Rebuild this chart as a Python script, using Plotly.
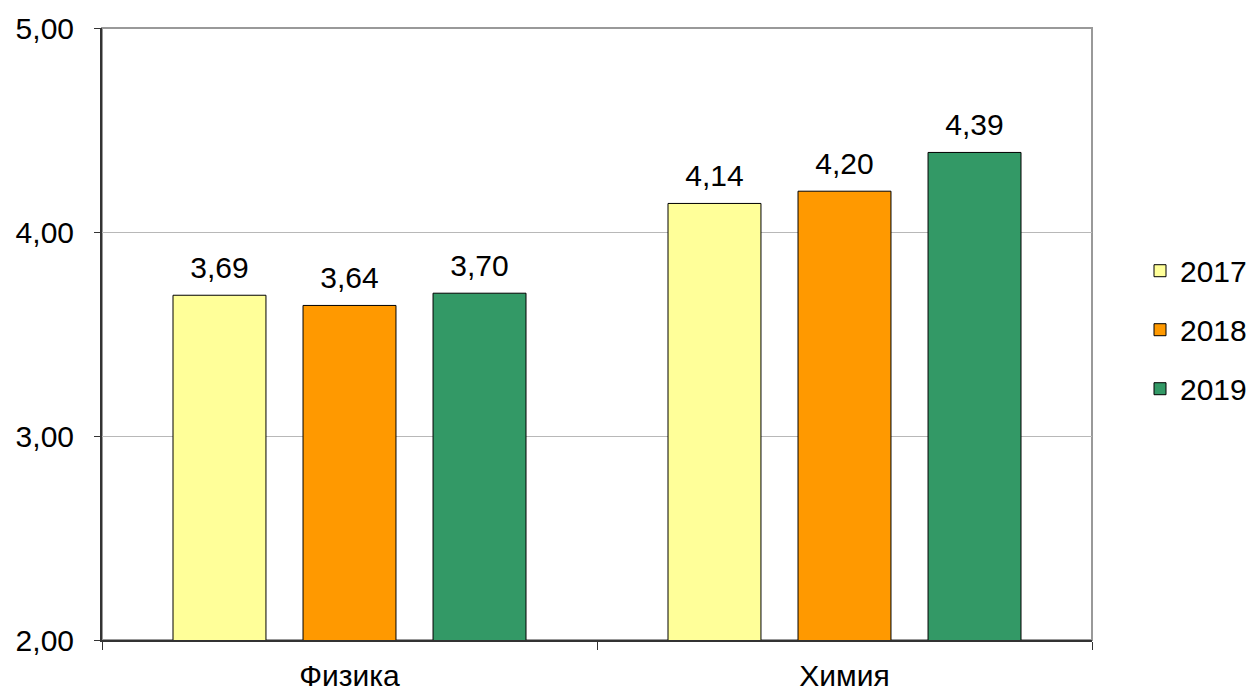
import plotly.graph_objects as go

subjects = ["Физика", "Химия"]
years = ["2017", "2018", "2019"]
scores = {
    "2017": [3.69, 4.14],
    "2018": [3.64, 4.20],
    "2019": [3.70, 4.39],
}
y_ticks = [2, 3, 4, 5]

colors = {"2017": "#FFFF99", "2018": "#FF9900", "2019": "#339966"}

fig = go.Figure()
for yr in years:
    fig.add_trace(go.Bar(
        x=subjects,
        y=scores[yr],
        name=yr,
        legendgroup=yr,
        offsetgroup=yr,
        marker=dict(color=colors[yr], line=dict(color="#000000", width=1)),
    ))

# value labels: grouped scatter text sitting on the bar centres
for yr in years:
    fig.add_trace(go.Scatter(
        x=subjects,
        y=scores[yr],
        mode="markers+text",
        offsetgroup=yr,
        marker=dict(size=14, opacity=0),
        text=[f"{v:.2f}".replace(".", ",") for v in scores[yr]],
        textposition="top center",
        textfont=dict(size=30, color="#000000"),
        showlegend=False,
        hoverinfo="skip",
        cliponaxis=False,
    ))

# grey frame around the plot area (top/right edges)
fig.add_shape(type="rect", xref="paper", yref="paper", x0=0, x1=1, y0=0, y1=1,
              line=dict(color="#999999", width=2), layer="below")

fig.update_layout(
    width=1250, height=692,
    plot_bgcolor="white", paper_bgcolor="white",
    font=dict(family="Liberation Sans, Arial", size=30, color="#000000"),
    separators=", ",
    barmode="group",
    bargap=0.212,
    bargroupgap=0.285,
    scattermode="group",
    scattergap=0.212,
    margin=dict(l=102, r=158, t=28, b=52, autoexpand=False),
    showlegend=True,
    legend=dict(xref="container", x=0.912, y=0.507, xanchor="left", yanchor="middle",
                font=dict(size=30), tracegroupgap=17, itemwidth=30),
)
fig.update_yaxes(
    range=[2, 5], tickvals=y_ticks, tickformat=".2f", automargin=False,
    showgrid=True, gridcolor="#B8B8B8", gridwidth=1,
    showline=True, linecolor="#333333", linewidth=2,
    ticks="outside", ticklen=6, tickcolor="#333333",
    ticklabelstandoff=14, zeroline=False,
)
fig.update_xaxes(
    automargin=False,
    showgrid=False, showline=True, linecolor="#333333", linewidth=2,
    ticks="outside", tickson="boundaries", ticklen=8, tickcolor="#333333",
    ticklabelstandoff=8,
)

# page body has a default 8px margin; drop it so the figure sits at 0,0
fig.write_html("out.html", config={"displayModeBar": False},
               post_script="document.body.style.margin='0';")
